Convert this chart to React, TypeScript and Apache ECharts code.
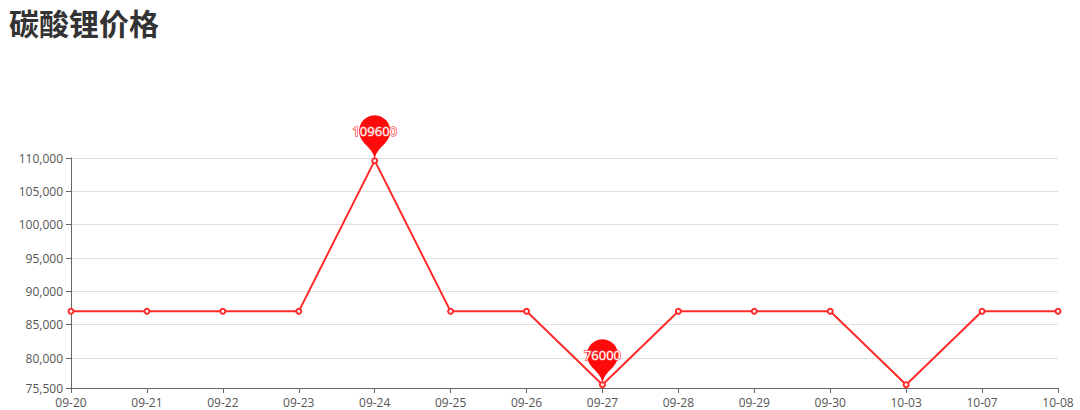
import React, { useEffect, useRef } from "react";
import * as echarts from "echarts";

const categories = ["09-20", "09-21", "09-22", "09-23", "09-24", "09-25", "09-26", "09-27", "09-28", "09-29", "09-30", "10-03", "10-07", "10-08"];
const prices = [87000, 87000, 87000, 87000, 109600, 87000, 87000, 76000, 87000, 87000, 87000, 76000, 87000, 87000];
const titleText = "碳酸锂价格";

export default function App() {
  const ref = useRef<HTMLDivElement>(null);
  useEffect(() => {
    document.body.style.margin = "0";
    const chart = echarts.init(ref.current!, null, { renderer: "svg" });
    chart.setOption({
      animation: false,
      title: {
        text: titleText,
        left: 4,
        top: 2,
        textStyle: { fontSize: 30, fontWeight: "bold", color: "#333", fontFamily: "Noto Sans CJK SC" },
      },
      grid: { left: 71, right: 22, top: 158, bottom: 22 },
      xAxis: {
        type: "category",
        data: categories,
        boundaryGap: false,
        axisLine: { lineStyle: { color: "#666" } },
        axisTick: { show: true, alignWithLabel: true },
        axisLabel: { color: "#555", fontSize: 12, fontFamily: "Open Sans", interval: 0 },
      },
      yAxis: {
        type: "value",
        min: 75500,
        max: 110000,
        axisLine: { show: true, lineStyle: { color: "#666" } },
        axisTick: { show: true },
        axisLabel: { color: "#555", fontSize: 12, fontFamily: "Open Sans" },
        splitLine: { lineStyle: { color: "#e0e0e0" } },
      },
      series: [
        {
          type: "line",
          data: prices,
          symbol: "emptyCircle",
          symbolSize: 5,
          showAllSymbol: true,
          itemStyle: { color: "#ff2a2a", borderColor: "#ff2a2a", borderWidth: 1 },
          lineStyle: { color: "#ff2a2a", width: 2 },
          emphasis: { disabled: true },
          markPoint: {
            symbolSize: 52,
            itemStyle: { color: "#ff0a0a" },
            label: { color: "#fff", fontSize: 13, fontFamily: "Open Sans", textBorderColor: "#ff5050", textBorderWidth: 1.5, offset: [0, -2] },
            data: [
              { type: "max", name: "max" },
              { type: "min", name: "min" },
            ],
          },
        },
      ],
    });
    return () => chart.dispose();
  }, []);
  return <div ref={ref} style={{ width: 1080, height: 410 }} />;
}
